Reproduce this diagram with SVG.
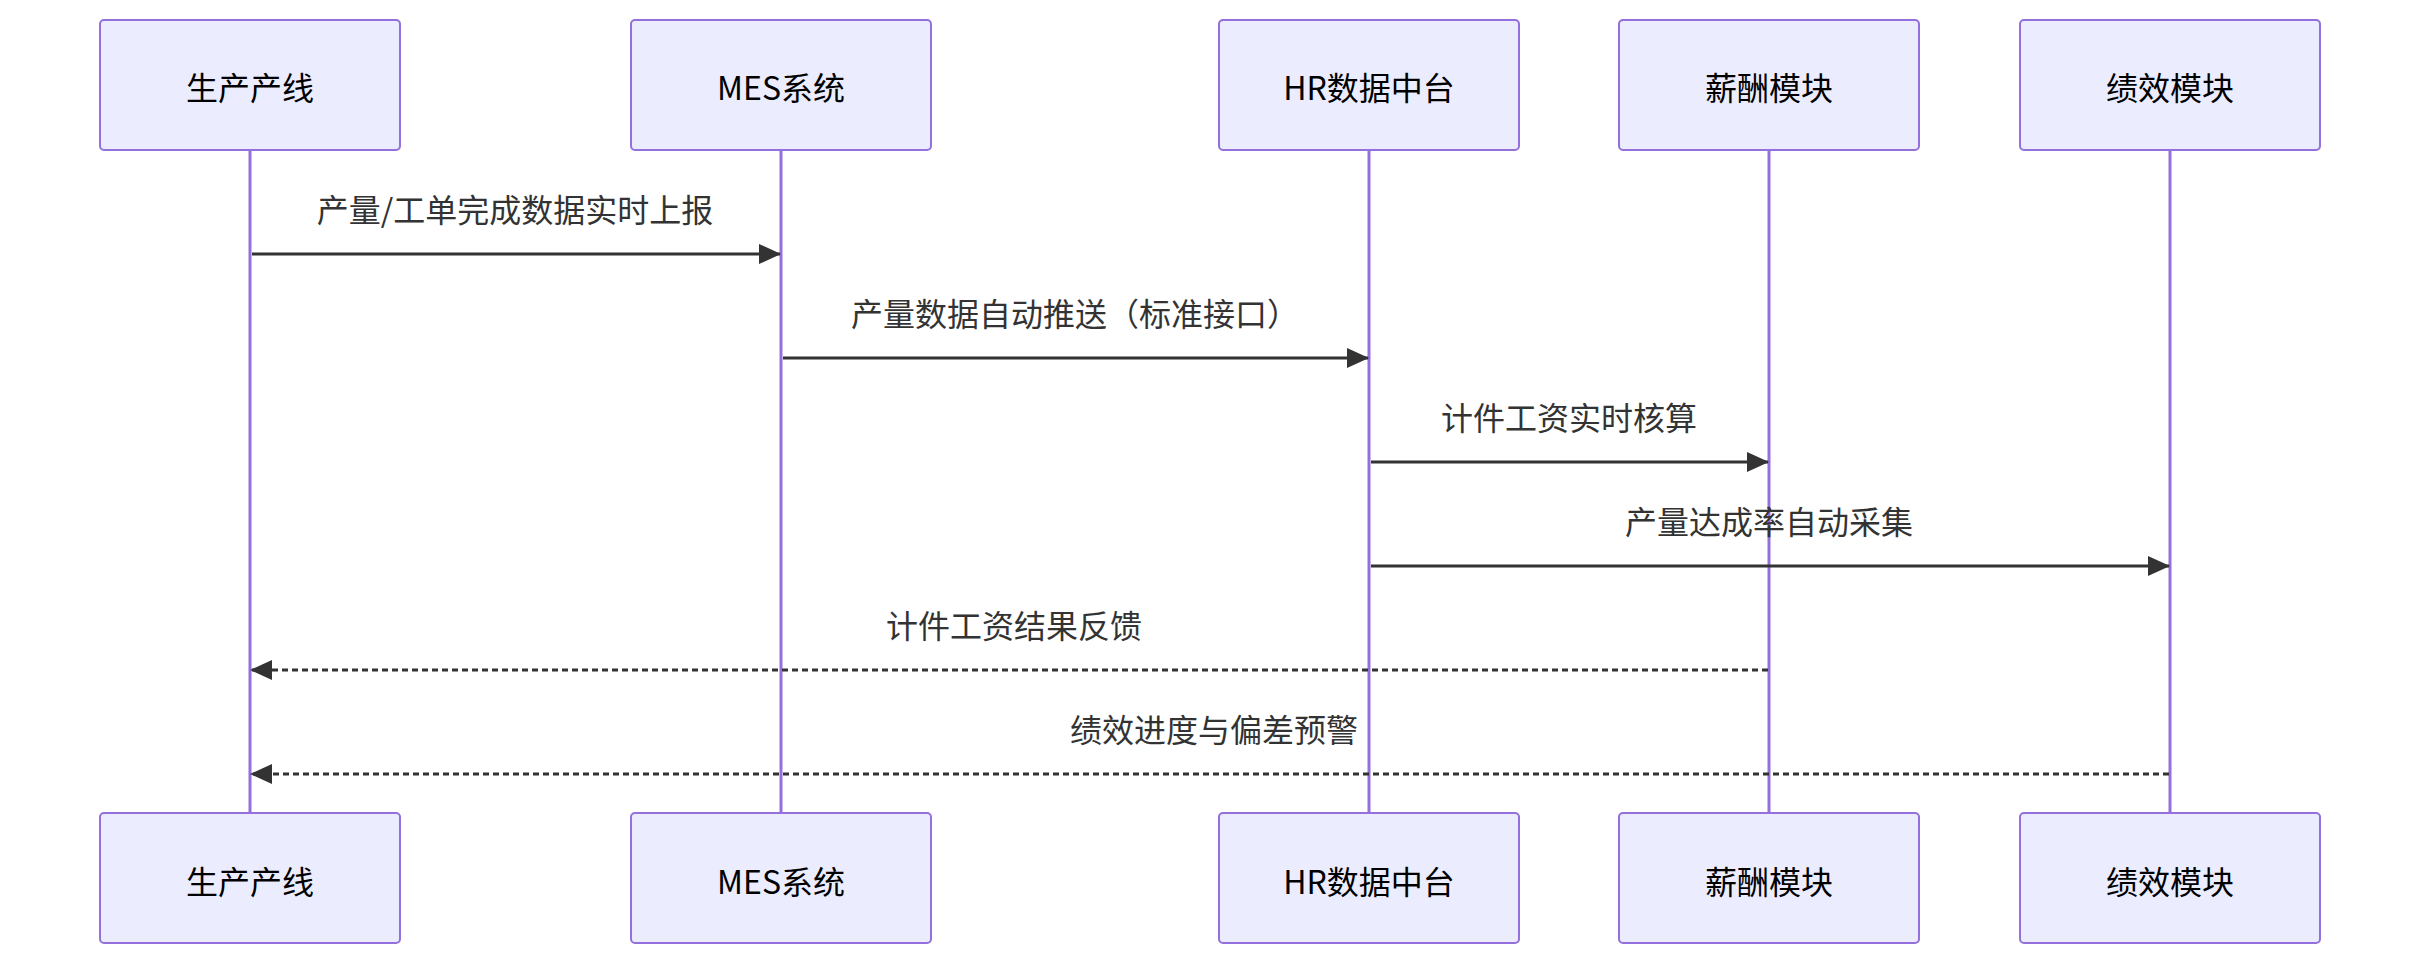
<svg xmlns="http://www.w3.org/2000/svg" width="2420" height="966" viewBox="0 0 2420 966">
<style>
.box{fill:#ECECFF;stroke:#9370DB;stroke-width:2}
.life{stroke:#9370DB;stroke-width:3}
.bt{font-family:"Noto Sans CJK SC","Liberation Sans",sans-serif;font-size:32px;fill:#000;text-anchor:middle;dominant-baseline:central}
.lt{font-family:"Noto Sans CJK SC","Liberation Sans",sans-serif;font-size:32px;fill:#333;text-anchor:middle;dominant-baseline:central}
.msg{stroke:#333;stroke-width:3;fill:none}
.dash{stroke-dasharray:6,4}
</style>
<defs>
<marker id="ah" markerWidth="12" markerHeight="12" refX="11" refY="6" orient="auto-start-reverse" markerUnits="userSpaceOnUse" viewBox="0 0 12 12"><path d="M0,0 L12,6 L0,12 z" fill="#333"/></marker>
<marker id="ahs" markerWidth="24" markerHeight="20" refX="21" refY="10" orient="auto" markerUnits="userSpaceOnUse" viewBox="0 0 24 20"><path d="M0,0 L22,10 L0,20 z" fill="#333"/></marker>
</defs>
<g id="lifelines">
<line class="life" x1="250" y1="150" x2="250" y2="813"/>
<line class="life" x1="781" y1="150" x2="781" y2="813"/>
<line class="life" x1="1369" y1="150" x2="1369" y2="813"/>
<line class="life" x1="1769" y1="150" x2="1769" y2="813"/>
<line class="life" x1="2170" y1="150" x2="2170" y2="813"/>
</g>
<g id="a1"><rect class="box" x="100" y="20" width="300" height="130" rx="4"/><text class="bt" x="250" y="86">生产产线</text></g>
<g id="a2"><rect class="box" x="631" y="20" width="300" height="130" rx="4"/><text class="bt" x="781" y="86">MES系统</text></g>
<g id="a3"><rect class="box" x="1219" y="20" width="300" height="130" rx="4"/><text class="bt" x="1369" y="86">HR数据中台</text></g>
<g id="a4"><rect class="box" x="1619" y="20" width="300" height="130" rx="4"/><text class="bt" x="1769" y="86">薪酬模块</text></g>
<g id="a5"><rect class="box" x="2020" y="20" width="300" height="130" rx="4"/><text class="bt" x="2170" y="86">绩效模块</text></g>
<g id="b1"><rect class="box" x="100" y="813" width="300" height="130" rx="4"/><text class="bt" x="250" y="880">生产产线</text></g>
<g id="b2"><rect class="box" x="631" y="813" width="300" height="130" rx="4"/><text class="bt" x="781" y="880">MES系统</text></g>
<g id="b3"><rect class="box" x="1219" y="813" width="300" height="130" rx="4"/><text class="bt" x="1369" y="880">HR数据中台</text></g>
<g id="b4"><rect class="box" x="1619" y="813" width="300" height="130" rx="4"/><text class="bt" x="1769" y="880">薪酬模块</text></g>
<g id="b5"><rect class="box" x="2020" y="813" width="300" height="130" rx="4"/><text class="bt" x="2170" y="880">绩效模块</text></g>
<g id="connectors">
<line class="msg" x1="252" y1="254" x2="780" y2="254" marker-end="url(#ahs)"/>
<text class="lt" x="515" y="208">产量/工单完成数据实时上报</text>
<line class="msg" x1="783" y1="358" x2="1368" y2="358" marker-end="url(#ahs)"/>
<text class="lt" x="1075" y="312">产量数据自动推送（标准接口）</text>
<line class="msg" x1="1371" y1="462" x2="1768" y2="462" marker-end="url(#ahs)"/>
<text class="lt" x="1569" y="416">计件工资实时核算</text>
<line class="msg" x1="1371" y1="566" x2="2169" y2="566" marker-end="url(#ahs)"/>
<text class="lt" x="1769" y="520">产量达成率自动采集</text>
<line class="msg dash" x1="1768" y1="670" x2="251" y2="670" marker-end="url(#ahs)"/>
<text class="lt" x="1014" y="624">计件工资结果反馈</text>
<line class="msg dash" x1="2169" y1="774" x2="251" y2="774" marker-end="url(#ahs)"/>
<text class="lt" x="1214" y="728">绩效进度与偏差预警</text>
</g>
</svg>
